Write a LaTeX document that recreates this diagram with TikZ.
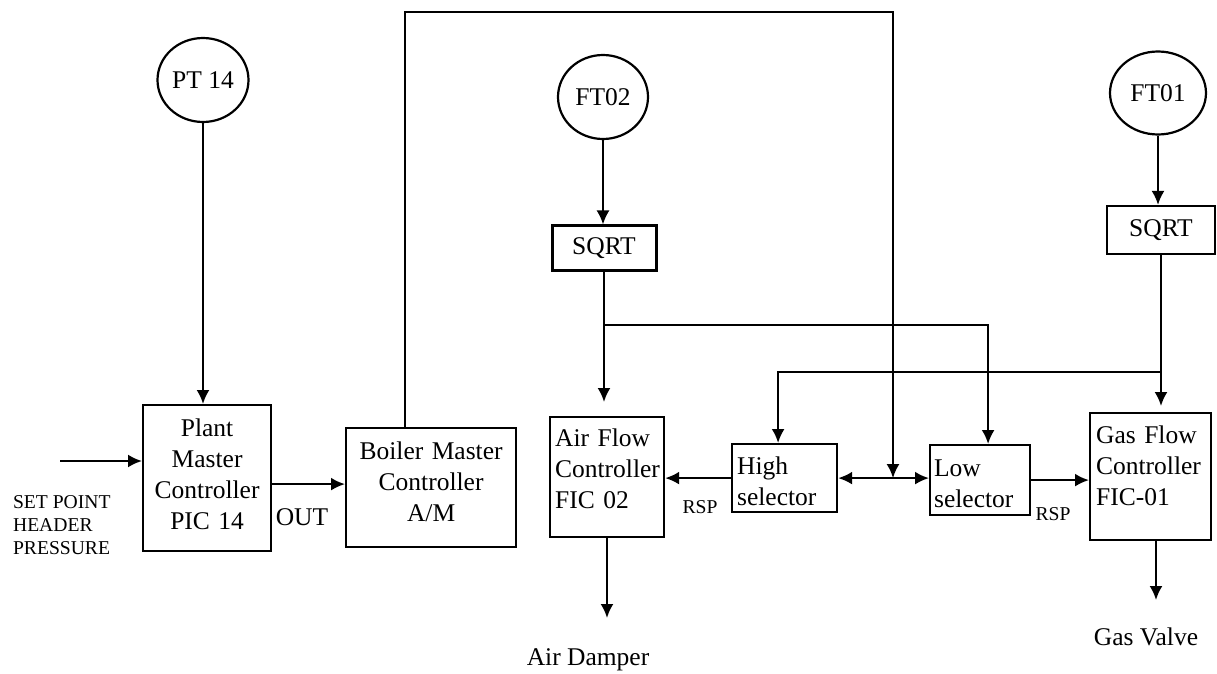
\documentclass[tikz,border=0pt]{standalone}
\usepackage{fontspec}
\setmainfont{Liberation Serif}
\usetikzlibrary{shapes.geometric, arrows.meta}

\begin{document}
\begin{tikzpicture}[x=0.5pt, y=-0.5pt, >={Latex[length=7pt, width=6.5pt]}, line width=1.1pt,
    every node/.style={font=\fontsize{12.75pt}{15.5pt}\selectfont},
    small/.style={font=\fontsize{9.8pt}{11.5pt}\selectfont},
    xmtr/.style={ellipse, draw, inner sep=0pt},
    sqrtbox/.style={draw, inner sep=0pt},
    ctrl/.style={draw, anchor=north west, inner ysep=0pt}]
    \useasboundingbox (0,0) rectangle (1217,674);

    % Transmitters
    \node[xmtr, minimum width=45.5pt, minimum height=42pt] (pt14) at (203,80) {PT 14};
    \node[xmtr, minimum width=45pt, minimum height=42pt] (ft02) at (603,97) {FT02};
    \node[xmtr, minimum width=48pt, minimum height=41.5pt] (ft01) at (1158,93) {FT01};

    % Square root blocks
    \node[sqrtbox, line width=1.5pt, minimum width=52pt, minimum height=22.5pt] (sqa) at (604,248.5) {SQRT};
    \node[sqrtbox, minimum width=54pt, minimum height=24pt] (sqb) at (1161,230) {SQRT};

    % Controllers and selectors
    \node[ctrl, inner xsep=0pt, text width=64pt, align=center, text height=15.75pt, text depth=57.25pt] (plant) at (142,404) {Plant\\Master\\Controller\\PIC 14};
    \node[ctrl, inner xsep=0pt, text width=85pt, align=center, text height=15.75pt, text depth=43.75pt] (boiler) at (345,427) {Boiler Master\\Controller\\A/M};
    \node[ctrl, inner xsep=2.5pt, text width=52pt, align=left, text height=14.75pt, text depth=45.25pt] (air) at (549,416) {Air Flow\\Controller\\FIC 02};
    \node[ctrl, inner xsep=2.5pt, text width=47.5pt, align=left, text height=15.25pt, text depth=18.75pt] (high) at (731,443) {High\\selector};
    \node[ctrl, inner xsep=2pt, text width=46pt, align=left, text height=15.75pt, text depth=19.25pt] (low) at (929,444) {Low\\selector};
    \node[ctrl, inner xsep=3pt, text width=54.5pt, align=left, text height=15.25pt, text depth=48.25pt] (gas) at (1089,412) {Gas Flow\\Controller\\FIC-01};

    % Header pressure loop
    \draw[->] (pt14.south) -- (pt14.south |- plant.north);
    \coordinate (spin) at (60,461);
    \draw[->] (spin) -- (spin -| plant.west);
    \node[small, anchor=west, align=left, inner sep=0pt] (setpt) at (12,525) {SET POINT\\HEADER\\PRESSURE};
    \draw[->] ([yshift=-3pt]plant.east) -- ([yshift=-3pt]plant.east -| boiler.west);
    \node (out) at (302,517) {OUT};

    % Boiler master demand to the selectors
    \coordinate (topr) at (893,12);
    \draw[->] ([xshift=-13pt]boiler.north) |- (topr) -- (topr |- high.east);
    \draw[<->] (high.east) -- (high.east -| low.west);
    \draw[->] (high.west) -- (high.west -| air.east);
    \draw[->] (low.east) -- (low.east -| gas.west);
    \node[small] (rspa) at (700,507) {RSP};
    \node[small] (rspb) at (1053,514) {RSP};

    % Air flow measurement
    \draw[->] (ft02.south) -- (ft02.south |- sqa.north);
    \draw[->, shorten >=7pt] (sqa.south) -- (sqa.south |- air.north);
    \coordinate (brA) at (sqa.south |- 0,325);
    \draw[->] (brA) -| ([xshift=4pt]low.north);

    % Gas flow measurement
    \draw[->] (ft01.south) -- (ft01.south |- sqb.north);
    \draw[->, shorten >=3pt] (sqb.south) -- (sqb.south |- gas.north);
    \coordinate (brB) at (sqb.south |- 0,372);
    \draw[->] (brB) -| ([xshift=-3.25pt]high.north);

    % Final elements
    \coordinate (airout) at (607,618);
    \draw[->] (airout |- air.south) -- (airout);
    \node (damper) at (588,660) {Air Damper};
    \coordinate (gasout) at (1156,600);
    \draw[->] (gasout |- gas.south) -- (gasout);
    \node (valve) at (1146,637) {Gas Valve};
\end{tikzpicture}
\end{document}
